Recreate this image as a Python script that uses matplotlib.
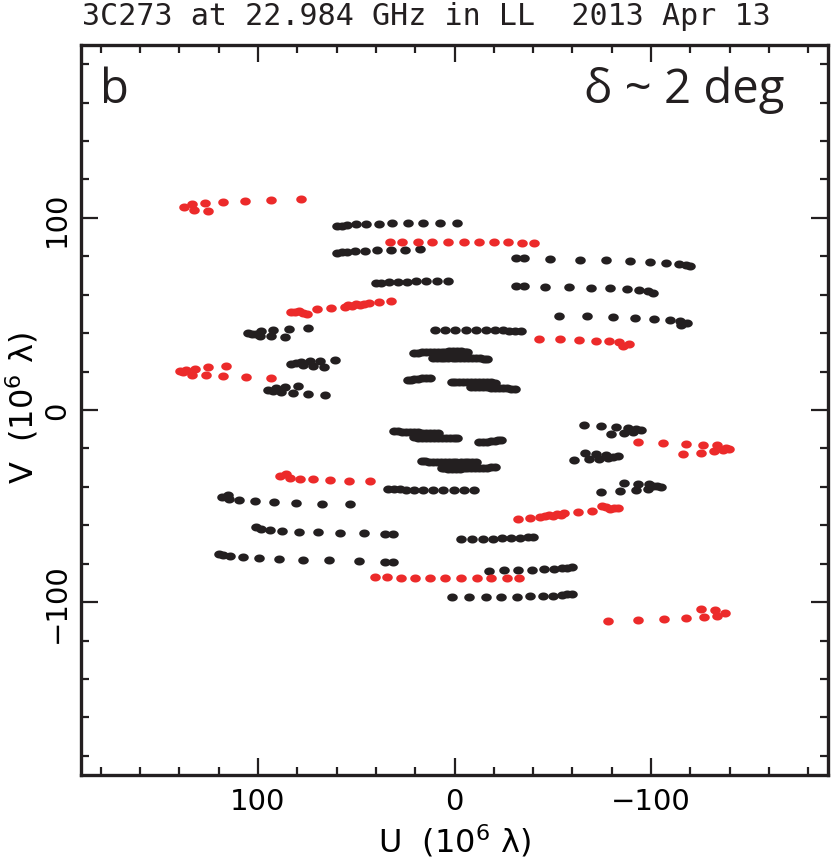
import numpy as np
import matplotlib
matplotlib.use("Agg")
from matplotlib import pyplot as plt

# uv points for the V > 0 half (units of 10^6 lambda);
# the other half is the conjugate (-u, -v)
red_u = [137.6, 133.3, 132.5, 126.8, 125.6, 117.9, 106.7, 93.3, 78.1,
         33.0, 26.5, 18.8, 11.4, 3.4, -4.6, -12.3, -20.0, -27.3, -34.2, -40.2,
         83.1, 81.0, 79.0, 76.9, 74.9, 69.7, 62.8, 55.6, 54.1, 52.3, 50.3, 48.2, 46.2, 43.6, 38.5, 32.5,
         -43.2, -53.8, -63.4, -71.8, -78.6, -83.8, -85.5, -88.9,
         139.5, 136.4, 131.8, 125.3, 116.1, 137.9, 133.3, 126.5, 117.6, 106.0, 93.1]
red_v = [105.9, 107.3, 104.3, 107.8, 103.6, 108.3, 108.9, 109.4, 109.7,
         87.2, 87.2, 87.2, 87.3, 87.3, 87.3, 87.3, 87.3, 87.2, 87.0, 86.7,
         50.8, 51.0, 51.3, 50.5, 50.0, 52.6, 52.9, 53.5, 54.4, 54.2, 55.0, 54.4, 55.0, 55.7, 56.3, 56.5,
         37.1, 36.8, 36.5, 36.1, 35.8, 35.3, 33.5, 34.3,
         20.3, 20.6, 21.4, 22.2, 23.0, 20.0, 18.2, 18.1, 17.5, 17.1, 16.8]

black_u = [59.8, 57.3, 54.7, 50.1, 45.0, 38.5, 31.6, 23.9, 15.9, 7.3, -1.2,
           59.8, 57.3, 54.7, 50.4, 45.5, 39.3, 32.4, 25.1, 17.6,
           -31.3, -35.4, -48.7, -63.6, -77.3, -89.2, -99.5, -107.8, -114.2, -117.9, -119.6,
           -31.3, -35.4, -46.2, -58.5, -69.6, -79.1, -87.5, -94.0, -98.3, -100.9,
           40.0, 37.4, 33.1, 28.5, 24.1, 19.5, 14.4, 9.0, 3.4,
           -53.0, -67.2, -80.4, -92.0, -101.7, -109.4, -114.5, -115.0, -118.5,
           9.7, 4.6, -0.5, -5.6, -10.8, -15.9, -20.5, -24.8, -27.9, -30.8, -33.8,
           105.1, 103.1, 101.0, 99.0, 98.5, 93.3, 92.3, 86.2, 84.3, 74.7,
           20.5, 18.6, 16.6, 14.6, 12.6, 10.6, 8.6, 6.6, 4.7, 2.6, 0.6, -1.4, -3.4, -5.2, -6.2,
           11.1, 9.1, 7.1, 5.1, 3.1, 1.0, -1.0, -3.0, -5.0, -7.0, -9.0, -11.0, -13.0, -15.0, -16.6,
           83.1, 80.5, 77.9, 73.5, 68.4, 60.7, 76.9, 71.8, 66.2,
           23.6, 22.1, 20.5, 18.5, 16.4, 14.4, 12.3,
           1.5, -0.5, -2.5, -4.5, -6.5, -8.5, -10.5, -12.5, -14.5, -16.5, -18.5, -20.5,
           -8.6, -10.6, -12.6, -14.6, -16.6, -18.6, -20.6, -22.6, -24.6, -26.6, -28.6, -30.8,
           90.6, 86.0, 79.5, 94.9, 92.3, 88.1, 82.3, 74.7, 65.9]
black_v = [95.7, 96.0, 96.4, 96.7, 96.9, 97.0, 97.2, 97.4, 97.5, 97.5, 97.5,
           81.6, 82.1, 82.5, 82.8, 83.0, 83.2, 83.3, 83.5, 83.7,
           79.0, 79.0, 78.6, 78.3, 78.1, 77.8, 77.2, 76.7, 76.0, 75.5, 74.8,
           64.4, 64.4, 64.2, 64.1, 63.7, 63.4, 63.0, 62.5, 61.8, 61.0,
           66.0, 66.3, 66.5, 66.7, 66.8, 67.0, 67.2, 67.2, 67.3,
           49.1, 48.8, 48.4, 48.1, 47.6, 47.0, 46.5, 44.3, 45.3,
           41.7, 41.8, 41.8, 41.8, 41.8, 41.8, 41.7, 41.5, 41.3, 41.1, 40.9,
           40.1, 39.8, 39.8, 38.7, 41.3, 38.3, 41.8, 37.9, 42.2, 42.5,
           29.8, 29.9, 30.0, 30.0, 30.1, 30.2, 30.2, 30.3, 30.4, 30.6, 30.8, 30.8, 30.6, 30.4, 30.3,
           27.3, 27.3, 27.3, 27.2, 27.2, 27.2, 27.1, 27.1, 27.1, 27.0, 27.0, 27.0, 26.9, 26.8, 26.8,
           24.2, 24.7, 25.0, 25.4, 25.7, 26.2, 23.2, 22.9, 22.4,
           15.4, 15.7, 16.0, 16.2, 16.4, 16.5, 16.7,
           14.8, 14.8, 14.8, 14.7, 14.7, 14.6, 14.6, 14.5, 14.5, 14.4, 14.4, 14.3,
           12.0, 12.0, 11.9, 11.9, 11.8, 11.7, 11.6, 11.5, 11.4, 11.2, 11.1, 11.0,
           11.5, 12.0, 12.5, 10.4, 9.9, 9.2, 8.7, 8.3, 8.0]

title = "3C273 at 22.984 GHz in LL  2013 Apr 13"
major_ticks = [100, 0, -100]

W, H = 831, 862
fig = plt.figure(figsize=(W / 100, H / 100), dpi=100)
ax = fig.add_axes([81 / W, (H - 776) / H, 747 / W, 730 / H])

# slightly flattened dot
t = np.linspace(0, 2 * np.pi, 40)
dot = np.column_stack([np.cos(t), 0.76 * np.sin(t)])

for u, v, c in [(black_u, black_v, '#231f20'), (red_u, red_v, '#ec2a2a')]:
    u = np.array(u)
    v = np.array(v)
    ax.plot(u, v, ls='none', marker=dot, ms=7.6, color=c, mec='none')
    ax.plot(-u, -v, ls='none', marker=dot, ms=7.6, color=c, mec='none')

ax.set_xlim(190, -190)
ax.set_ylim(-190, 190)
ax.set_xticks(major_ticks)
ax.set_yticks(major_ticks)
ax.set_xticklabels(['100', '0', '\u2212100'])
ax.set_yticklabels(['100', '0', '\u2212100'])
ax.set_xticks(np.arange(-180, 181, 20), minor=True)
ax.set_yticks(np.arange(-180, 181, 20), minor=True)
ax.tick_params(which='both', direction='in', top=True, right=True, width=1.6, color='#231f20')
ax.tick_params(which='major', length=12)
ax.tick_params(which='minor', length=6)
ax.tick_params(axis='x', labelsize=21, pad=9)
ax.tick_params(axis='y', labelsize=21, pad=7)
for lab in ax.get_yticklabels():
    lab.set_rotation(90)
    lab.set_va('center')
for s in ax.spines.values():
    s.set_linewidth(2.4)
    s.set_color('#231f20')

fig.text(455 / W, 1 - 853 / H, 'U  (10$^6$ \u03bb)', fontsize=23, ha='center', va='baseline')
fig.text(22 / W, 1 - 408 / H, 'V  (10$^6$ \u03bb)', fontsize=23, ha='center', va='center', rotation=90)
fig.text(82 / W, 1 - 25 / H, title, fontsize=21.6, family='DejaVu Sans Mono',
         ha='left', va='baseline', color='#231f20')

ax.text(100 / W, 1 - 103 / H, 'b', transform=fig.transFigure, fontsize=34,
        family='Open Sans', ha='left', va='baseline', color='#231f20')
ax.text(784 / W, 1 - 103 / H, '\u03b4 ~ 2 deg', transform=fig.transFigure, fontsize=34,
        family='Open Sans', ha='right', va='baseline', color='#231f20')

fig.savefig('out.png', dpi=100)
